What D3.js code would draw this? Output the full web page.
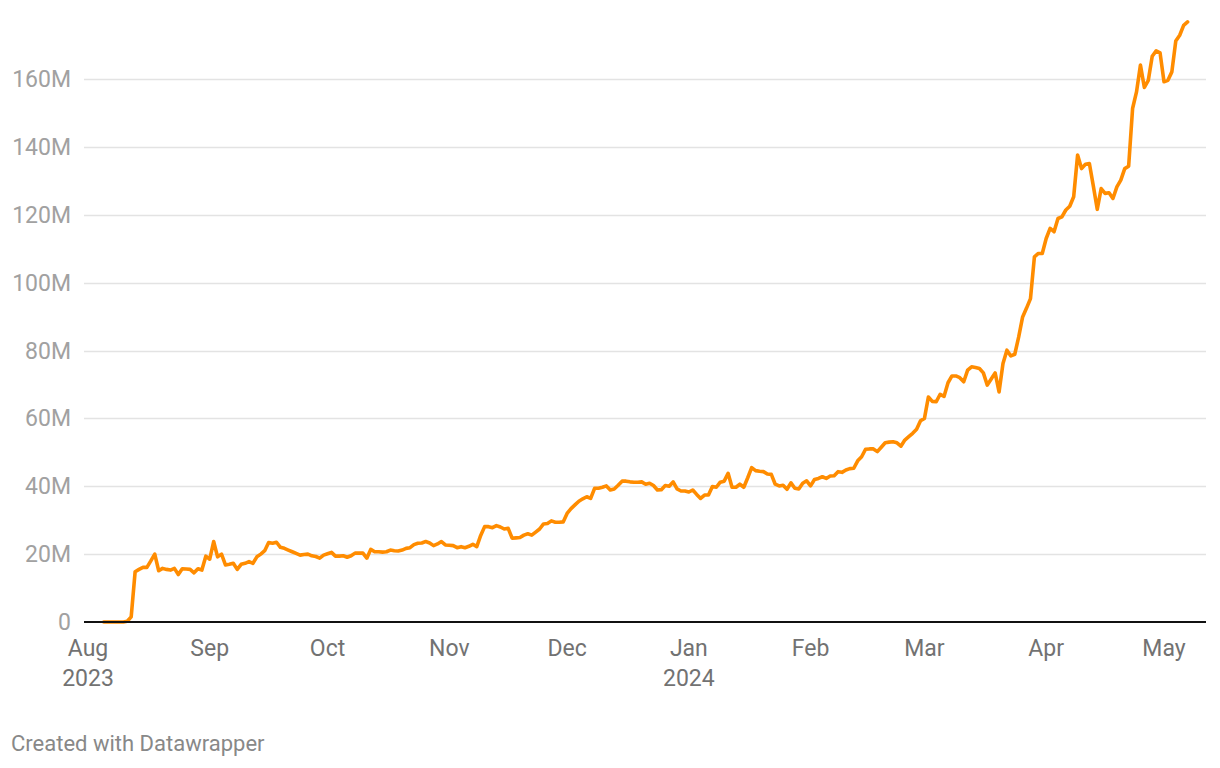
<!DOCTYPE html>
<html>
<head>
<meta charset="utf-8">
<script src="https://cdn.jsdelivr.net/npm/d3@7"></script>
<style>
  html, body { margin: 0; padding: 0; background: #ffffff; }
  svg { display: block; font-family: Roboto, "Noto Sans", sans-serif; }
</style>
</head>
<body>
<svg id="chart" width="1220" height="768"></svg>
<script>
// ---- data (values in millions, one per day) ----
const aug = [0,0,0,0,0,0,0.2,1.5,14.8,15.5,16.1,16.1,18.0,20.0,15.1,15.8,15.5,15.3,15.8,14.0,15.7,15.6,15.5,14.5,15.7,15.3,19.4];
const sep = [18.5,23.7,19.2,20.0,16.8,17.0,17.3,15.5,17.0,17.3,17.8,17.3,19.2,20.0,21.0,23.4,23.2,23.5,22.0,21.7,21.2,20.7,20.2,19.7,19.9,20.0,19.5,19.3,18.8,19.7];
const oct = [20.1,20.5,19.4,19.4,19.5,19.1,19.5,20.3,20.3,20.3,18.8,21.4,20.7,20.7,20.6,20.7,21.2,21.0,20.9,21.2,21.7,21.9,22.8,23.2,23.3,23.7,23.3,22.5,23.0,23.7,22.7];
const nov = [22.6,22.5,21.9,22.2,21.9,22.3,22.9,22.2,25.5,28.1,28.1,27.8,28.4,28.0,27.4,27.6,24.7,24.8,24.9,25.6,26.0,25.6,26.5,27.4,28.9,29.0,29.8,29.4,29.4,29.5];
const dec = [32.0,33.4,34.5,35.6,36.3,36.9,36.4,39.4,39.4,39.7,40.1,38.9,39.2,40.3,41.5,41.5,41.3,41.2,41.2,41.3,40.6,40.9,40.2,38.9,39.0,40.2,40.0,41.3,39.2,38.6,38.6];
const jan = [38.3,38.9,37.6,36.4,37.4,37.4,39.9,39.7,41.2,41.5,43.8,39.7,39.7,40.6,39.7,42.5,45.5,44.6,44.4,44.3,43.6,43.5,40.6,40.1,40.3,39.1,41.0,39.4,39.2,40.9,41.6];
const feb = [40.1,42.0,42.3,42.8,42.3,43.0,43.1,44.3,44.1,44.8,45.2,45.3,47.5,48.7,50.9,51.0,51.0,50.2,51.5,52.8,53.0,53.1,52.8,51.8,53.6,54.6,55.6,56.8,59.3];
const mar = [60.0,66.3,65.0,64.9,67.1,66.5,70.5,72.5,72.5,72.0,70.8,74.2,75.2,75.0,74.7,73.4,69.8,71.6,73.4,67.8,76.2,80.1,78.4,78.9,84.0,89.9,92.5,95.3,107.6,108.6,108.6];
const apr = [113.0,116.0,115.0,118.9,119.4,121.4,122.5,125.3,137.6,133.6,134.9,135.1,128.5,121.6,127.7,126.3,126.5,124.8,128.2,130.2,133.6,134.3,151.3,156.2,164.1,157.5,159.6,166.7,168.3,167.7];
const may = [159.2,159.6,162.1,171.2,172.9,175.8,176.8];

const monthStarts = ["2023-08-05","2023-09-01","2023-10-01","2023-11-01","2023-12-01","2024-01-01","2024-02-01","2024-03-01","2024-04-01","2024-05-01"];
const monthValues = [aug, sep, oct, nov, dec, jan, feb, mar, apr, may];

const yTicks = [0, 20, 40, 60, 80, 100, 120, 140, 160];
const yTickLabels = ["0","20M","40M","60M","80M","100M","120M","140M","160M"];
const xTicks = ["2023-08-01","2023-09-01","2023-10-01","2023-11-01","2023-12-01","2024-01-01","2024-02-01","2024-03-01","2024-04-01","2024-05-01"];
const xTickLabels = ["Aug","Sep","Oct","Nov","Dec","Jan","Feb","Mar","Apr","May"];
const xTickYears = ["2023","","","","","2024","","","",""];

// ---- build table ----
const parse = d3.utcParse("%Y-%m-%d");
const data = [];
monthValues.forEach((arr, m) => {
  const s = parse(monthStarts[m]);
  arr.forEach((v, i) => data.push({ date: d3.utcDay.offset(s, i), value: v }));
});

// ---- layout ----
const svg = d3.select("#chart");
const gridLeft = 84, gridRight = 1206;

const x = d3.scaleUtc()
  .domain([parse("2023-08-01"), parse("2024-05-01")])
  .range([88, 1164]);
const y = d3.scaleLinear().domain([0, 160]).range([622, 79]);

// gridlines
svg.append("g").selectAll("line")
  .data(yTicks.filter(d => d !== 0))
  .join("line")
  .attr("x1", gridLeft).attr("x2", gridRight)
  .attr("y1", d => Math.round(y(d)) + 0.5).attr("y2", d => Math.round(y(d)) + 0.5)
  .attr("stroke", "#e3e3e3").attr("stroke-width", 1.4);

// y labels
svg.append("g").selectAll("text")
  .data(yTicks)
  .join("text")
  .attr("x", 71)
  .attr("y", d => y(d))
  .attr("dy", "0.35em")
  .attr("text-anchor", "end")
  .attr("font-size", 23)
  .attr("fill", "#a1a1a1")
  .text((d, i) => yTickLabels[i]);

// x labels
const xg = svg.append("g");
xTicks.forEach((t, i) => {
  const px = x(parse(t));
  xg.append("text")
    .attr("x", px).attr("y", 656)
    .attr("text-anchor", "middle")
    .attr("font-size", 23)
    .attr("fill", "#727272")
    .text(xTickLabels[i]);
  if (xTickYears[i]) {
    xg.append("text")
      .attr("x", px).attr("y", 686)
      .attr("text-anchor", "middle")
      .attr("font-size", 23)
      .attr("fill", "#727272")
      .text(xTickYears[i]);
  }
});

// line
const line = d3.line()
  .x(d => x(d.date))
  .y(d => y(d.value))
  .curve(d3.curveLinear);

svg.append("path")
  .datum(data)
  .attr("d", line)
  .attr("fill", "none")
  .attr("stroke", "#ff8c00")
  .attr("stroke-width", 3.6)
  .attr("stroke-linejoin", "round")
  .attr("stroke-linecap", "round");

// zero baseline
svg.append("line")
  .attr("x1", gridLeft).attr("x2", gridRight)
  .attr("y1", y(0)).attr("y2", y(0))
  .attr("stroke", "#111111").attr("stroke-width", 2);

// footer
svg.append("text")
  .attr("x", 11).attr("y", 751)
  .attr("font-size", 22)
  .attr("fill", "#888888")
  .text("Created with Datawrapper");
</script>
</body>
</html>
